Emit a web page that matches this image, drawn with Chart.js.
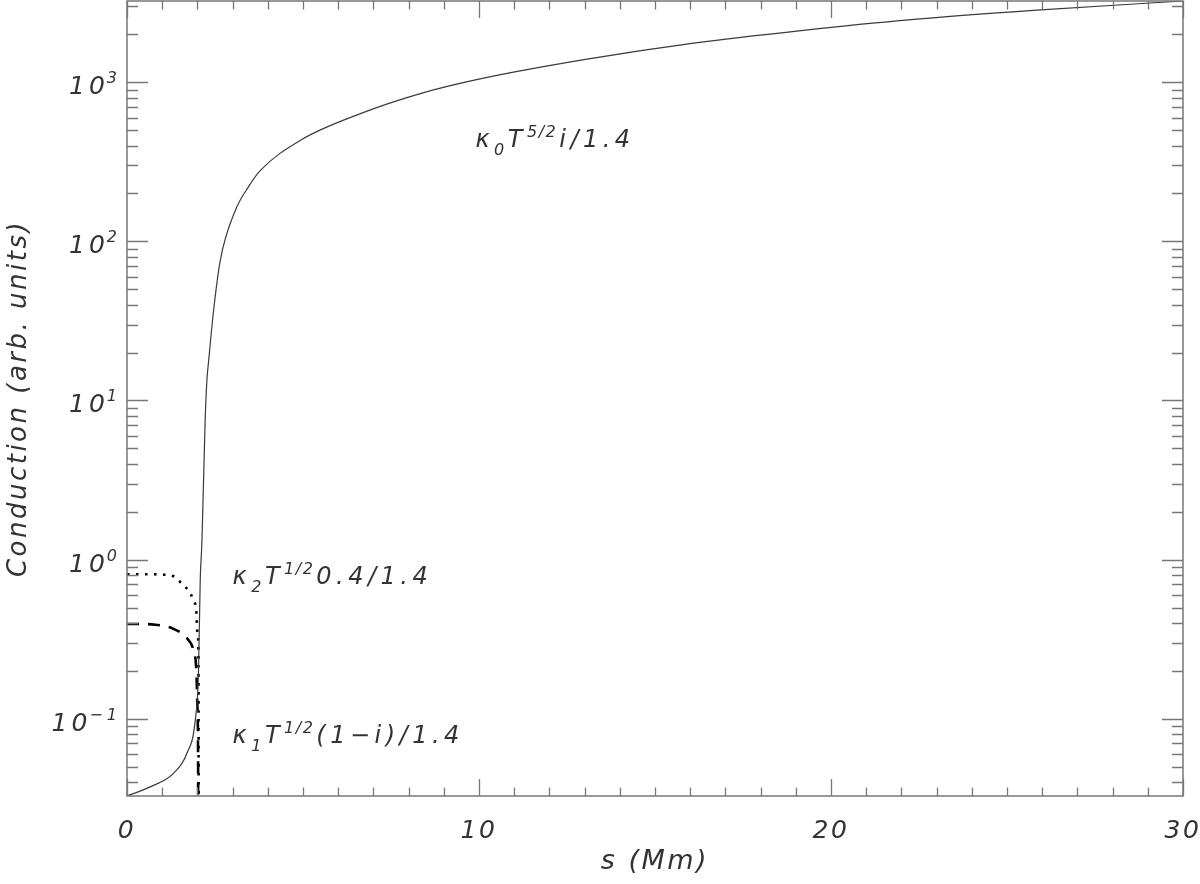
<!DOCTYPE html>
<html>
<head>
<meta charset="utf-8">
<script src="https://cdn.jsdelivr.net/npm/chart.js@4.4.1/dist/chart.umd.min.js"></script>
<style>
  html, body { margin: 0; padding: 0; background: #fff; }
  #wrap { width: 1200px; height: 884px; position: relative; }
</style>
</head>
<body>
<div id="wrap"><canvas id="condChart"></canvas></div>
<script>
// valori (s in Mm, conduzione in unita' arbitrarie)
const sTotal = [0, 0.66, 1.32, 1.70, 1.94, 2.03, 2.08, 2.13, 2.22, 2.27, 2.32, 2.46, 2.65, 3.08, 3.45, 3.79, 4.92, 6.63, 8.33, 10.03, 13.07, 16.1, 19.15, 22.2, 25.85, 30];
const kappaTotal = [0.0327, 0.0373, 0.0454, 0.0605, 0.098, 0.193, 0.74, 1.32, 7.5, 13.4, 17.8, 36.8, 76, 157, 220, 279, 431, 635, 849, 1050, 1397, 1762, 2113, 2467, 2838, 3240];

const sKappa2 = [0, 0.5, 1.0, 1.3, 1.61, 1.75, 1.87, 1.97, 2.0, 2.03, 2.04];
const kappa2 = [0.81, 0.81, 0.805, 0.79, 0.686, 0.638, 0.566, 0.466, 0.35, 0.268, 0.001];

const sKappa1 = [0, 0.4, 0.8, 1.32, 1.72, 1.89, 1.97, 2.0, 2.02, 2.03];
const kappa1 = [0.394, 0.394, 0.39, 0.367, 0.317, 0.268, 0.2, 0.12, 0.05, 0.001];

const xTickLabels = ['0', '10', '20', '30'];
// esponenti delle etichette 10^n sull'asse y
const yTickExponents = { '-1': '−1', '0': '0', '1': '1', '2': '2', '3': '3' };

const yMin = 0.0327;
const yMax = 3240;

// etichette delle curve: posizione in coordinate dati
const curveLabels = [
    { s: 9.9, v: 389, parts: [['κ', 'n'], ['0', 'sub'], ['T', 'n'], ['5/2', 'sup'], ['i/1.4', 'n']] },
    { s: 3.0, v: 0.706, parts: [['κ', 'n'], ['2', 'sub'], ['T', 'n'], ['1/2', 'sup'], ['0.4/1.4', 'n']] },
    { s: 3.0, v: 0.070, parts: [['κ', 'n'], ['1', 'sub'], ['T', 'n'], ['1/2', 'sup'], ['(1−i)/1.4', 'n']] }
];

const FONT = "'DejaVu Sans', 'Liberation Sans', sans-serif";
const TEXT_COLOR = '#333';
const AXIS_COLOR = '#777';

function toPoints(xs, ys) {
    return xs.map((x, i) => ({ x: x, y: ys[i] }));
}

function isDecade(v) {
    const e = Math.log10(v);
    return Math.abs(e - Math.round(e)) < 1e-6;
}

function isNiceLog(v) {
    const e = Math.floor(Math.log10(v) + 1e-9);
    const m = v / Math.pow(10, e);
    return Math.abs(m - Math.round(m)) < 1e-6;
}

// spaziatura larga dei caratteri, come il font vettoriale di IDL
const wideText = {
    id: 'wideText',
    beforeDraw(chart) {
        chart.ctx.letterSpacing = '2.5px';
    }
};

// cornice e tacche interne su tutti e quattro i lati (stile IDL)
const frameTicks = {
    id: 'frameTicks',
    afterDatasetsDraw(chart) {
        const { ctx, chartArea: a, scales } = chart;
        ctx.save();
        ctx.strokeStyle = AXIS_COLOR;
        ctx.lineWidth = 1.3;
        ctx.beginPath();
        scales.x.ticks.forEach(t => {
            const px = Math.round(scales.x.getPixelForValue(t.value)) + 0.5;
            const len = (t.value % 10 === 0) ? 17 : 8.5;
            ctx.moveTo(px, a.bottom); ctx.lineTo(px, a.bottom - len);
            ctx.moveTo(px, a.top); ctx.lineTo(px, a.top + len);
        });
        scales.y.ticks.forEach(t => {
            if (!isNiceLog(t.value)) return;
            const py = Math.round(scales.y.getPixelForValue(t.value)) + 0.5;
            const len = isDecade(t.value) ? 21 : 11;
            ctx.moveTo(a.left, py); ctx.lineTo(a.left + len, py);
            ctx.moveTo(a.right, py); ctx.lineTo(a.right - len, py);
        });
        ctx.stroke();
        ctx.lineWidth = 1.5;
        ctx.strokeRect(a.left, a.top, a.right - a.left, a.bottom - a.top);
        ctx.restore();
    }
};

// etichette 10^n dell'asse y, con apice vero
const yPowerLabels = {
    id: 'yPowerLabels',
    afterDraw(chart) {
        const { ctx, scales } = chart;
        const y = scales.y;
        ctx.save();
        ctx.fillStyle = TEXT_COLOR;
        ctx.textBaseline = 'alphabetic';
        ctx.textAlign = 'left';
        ctx.letterSpacing = '4px';
        y.ticks.forEach(t => {
            if (!isDecade(t.value)) return;
            const exp = yTickExponents[String(Math.round(Math.log10(t.value)))];
            const py = y.getPixelForValue(t.value);
            ctx.font = 'italic 25px ' + FONT;
            const wBase = ctx.measureText('10').width;
            ctx.font = 'italic 16px ' + FONT;
            const wExp = ctx.measureText(exp).width;
            const x0 = y.right - 8 - wBase - wExp + 4;
            ctx.font = 'italic 25px ' + FONT;
            ctx.fillText('10', x0, py + 12);
            ctx.font = 'italic 16px ' + FONT;
            ctx.fillText(exp, x0 + wBase - 2, py + 1);
        });
        ctx.restore();
    }
};

// testo con pedici ed apici
const curveText = {
    id: 'curveText',
    afterDraw(chart) {
        const { ctx, scales } = chart;
        ctx.save();
        ctx.fillStyle = TEXT_COLOR;
        ctx.textBaseline = 'alphabetic';
        ctx.textAlign = 'left';
        curveLabels.forEach(lab => {
            let x = scales.x.getPixelForValue(lab.s);
            const y = scales.y.getPixelForValue(lab.v);
            lab.parts.forEach(([txt, kind]) => {
                const main = kind === 'n';
                const dy = kind === 'sub' ? 8 : (kind === 'sup' ? -10 : 0);
                ctx.letterSpacing = main ? '4.5px' : '1.5px';
                ctx.font = 'italic ' + (main ? 24 : 16) + 'px ' + FONT;
                ctx.fillText(txt, x, y + dy);
                x += ctx.measureText(txt).width + (main ? 0 : 2);
            });
        });
        ctx.restore();
    }
};

const ctx = document.getElementById('condChart').getContext('2d');

new Chart(ctx, {
    type: 'line',
    data: {
        datasets: [
            {
                label: 'kappa0 T^5/2 i/1.4',
                data: toPoints(sTotal, kappaTotal),
                borderColor: '#3a3a3a',
                borderWidth: 1.2,
                pointRadius: 0,
                cubicInterpolationMode: 'monotone',
                fill: false
            },
            {
                label: 'kappa2 T^1/2 0.4/1.4',
                data: toPoints(sKappa2, kappa2),
                borderColor: '#000',
                borderWidth: 2.6,
                borderDash: [2.5, 6.5],
                pointRadius: 0,
                cubicInterpolationMode: 'monotone',
                fill: false
            },
            {
                label: 'kappa1 T^1/2 (1-i)/1.4',
                data: toPoints(sKappa1, kappa1),
                borderColor: '#000',
                borderWidth: 2.6,
                borderDash: [12, 9],
                pointRadius: 0,
                cubicInterpolationMode: 'monotone',
                fill: false
            }
        ]
    },
    options: {
        responsive: true,
        maintainAspectRatio: false,
        animation: false,
        layout: { padding: { top: 1, right: 17, left: 0, bottom: 0 } },
        plugins: {
            legend: { display: false },
            tooltip: { enabled: false }
        },
        scales: {
            x: {
                type: 'linear',
                min: 0,
                max: 30,
                grid: { display: false, drawTicks: false },
                border: { display: false },
                afterFit(scale) {
                    scale.height = 88;
                    scale.paddingLeft = 0;
                    scale.paddingRight = 0;
                },
                ticks: {
                    stepSize: 1,
                    autoSkip: false,
                    maxRotation: 0,
                    padding: 20,
                    color: TEXT_COLOR,
                    font: { family: FONT, size: 25, style: 'italic' },
                    callback: v => (v % 10 === 0 ? xTickLabels[v / 10] : '')
                },
                title: {
                    display: true,
                    text: 's (Mm)',
                    color: TEXT_COLOR,
                    font: { family: FONT, size: 27, style: 'italic' },
                    padding: { top: 0, bottom: 6 }
                }
            },
            y: {
                type: 'logarithmic',
                min: yMin,
                max: yMax,
                grid: { display: false, drawTicks: false },
                border: { display: false },
                afterFit(scale) {
                    scale.width = 127;
                    scale.paddingTop = 0;
                    scale.paddingBottom = 0;
                },
                ticks: {
                    display: false,
                    autoSkip: false
                },
                title: {
                    display: true,
                    text: 'Conduction (arb. units)',
                    color: TEXT_COLOR,
                    font: { family: FONT, size: 26, style: 'italic' },
                    padding: { top: 4, bottom: 0 }
                }
            }
        }
    },
    plugins: [wideText, frameTicks, yPowerLabels, curveText]
});
</script>
</body>
</html>
